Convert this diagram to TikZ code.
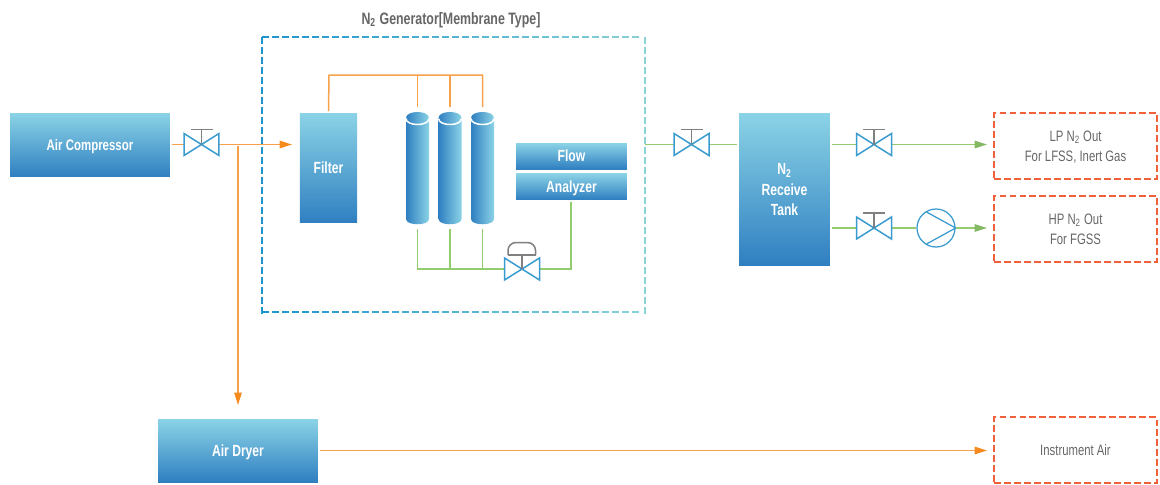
\documentclass[tikz,border=0pt]{standalone}
\usepackage{fontspec}
\setmainfont{Liberation Sans}[FakeStretch=0.75]
\usetikzlibrary{arrows.meta}
\definecolor{boxlight}{HTML}{8BD3E6}
\definecolor{boxdark}{HTML}{2F7FC1}
\definecolor{dashblue}{HTML}{1E94CF}
\definecolor{dashteal}{HTML}{8AD3D6}
\definecolor{valveblue}{HTML}{3A9BCF}
\definecolor{pipeorange}{HTML}{F7A14A}
\definecolor{tiporange}{HTML}{F58A1F}
\definecolor{pipegreen}{HTML}{93CC6E}
\definecolor{outred}{HTML}{F0603A}
\definecolor{labelgray}{HTML}{666666}
\tikzset{
	unit/.style={shade, top color=boxlight, bottom color=boxdark, inner sep=0, outer sep=0.04cm, text=white, text depth=0pt, align=center, font=\fontsize{9.2}{11.6}\selectfont\bfseries},
	outbox/.style={draw=outred, line width=0.035cm, dash pattern=on 0.13cm off 0.07cm, inner sep=0, minimum width=3.26cm, minimum height=1.32cm, align=center, text=labelgray, font=\fontsize{8.6}{11.4}\selectfont},
	valve/.style={inner sep=0, outer sep=0, minimum width=0.7cm, minimum height=0.44cm},
	pump/.style={circle, draw=valveblue, line width=0.025cm, inner sep=0, minimum size=0.76cm},
	air/.style={draw=pipeorange, line width=0.03cm},
	gas/.style={draw=pipegreen, line width=0.03cm},
	airflow/.style={air, -{Triangle[length=0.25cm,width=0.15cm,color=tiporange]}},
	gasflow/.style={gas, -{Triangle[length=0.25cm,width=0.15cm,color=pipegreen!90!black]}},
}
\begin{document}
\begin{tikzpicture}[x=0.02cm, y=-0.02cm]
	\useasboundingbox (0,0) rectangle (1160,484);

	% generator frame, dashes fade from blue to teal
	\foreach \x in {262,272,...,636} {
		\pgfmathsetmacro{\fade}{100-(\x-262)/3.8}
		\draw[color=dashblue!\fade!dashteal, line width=0.035cm] (\x,37) -- ++(7,0);
		\draw[color=dashblue!\fade!dashteal, line width=0.035cm] (\x,312) -- ++(7,0);
	}
	\foreach \y in {37,47,...,307} {
		\draw[color=dashblue, line width=0.035cm] (262,\y) -- ++(0,7);
		\draw[color=dashteal, line width=0.035cm] (645,\y) -- ++(0,7);
	}
	\node[text=labelgray, inner sep=0, font=\fontsize{9.4}{11}\selectfont\bfseries] (title) at (451,20) {N\textsubscript{2} Generator[Membrane Type]};

	% units
	\node[unit, minimum width=3.2cm, minimum height=1.28cm, font=\fontsize{8.7}{11}\selectfont\bfseries] (compressor) at (90,145) {Air Compressor};
	\node[unit, minimum width=3.2cm, minimum height=1.26cm] (dryer) at (238,450.5) {Air Dryer};
	\node[unit, minimum width=1.15cm, minimum height=2.2cm] (filter) at (328.5,168) {Filter};
	\node[unit, minimum width=2.22cm, minimum height=0.52cm] (flow) at (571.5,156) {Flow};
	\node[unit, minimum width=2.22cm, minimum height=0.52cm] (analyzer) at (571.5,186.5) {Analyzer};
	\node[unit, minimum width=1.82cm, minimum height=3.06cm] (tank) at (784.5,189.5) {N\textsubscript{2}\\Receive\\Tank};

	% membrane columns
	\foreach \name/\x in {mema/417.5, memb/450, memc/482.5} {
		\shade[left color=boxdark, right color=boxlight] (\x-11.5,118) -- (\x-11.5,219) .. controls (\x-11.5,226) and (\x+11.5,226) .. (\x+11.5,219) -- (\x+11.5,118) -- cycle;
		\shade[left color=boxdark, right color=boxlight] (\x-11.5,118) .. controls (\x-11.5,110) and (\x+11.5,110) .. (\x+11.5,118) .. controls (\x+11.5,126) and (\x-11.5,126) .. (\x-11.5,118) -- cycle;
		\draw[white, line width=0.03cm] (\x-11.5,118.5) .. controls (\x-11.5,126.5) and (\x+11.5,126.5) .. (\x+11.5,118.5);
		\node[inner sep=0, outer sep=0, minimum width=0.46cm, minimum height=2.44cm] (\name) at (\x,168) {};
	}

	% valves and pump
	\node[valve] (vcomp) at (201.5,144.5) {};
	\node[valve] (vctrl) at (522,269) {};
	\node[valve] (vgen) at (691.5,144.5) {};
	\node[valve] (vlp) at (874,144.5) {};
	\node[valve] (vhp) at (874,228) {};
	\node[pump] (hpump) at (936,228) {};
	\draw[valveblue, line width=0.025cm] (926.5,212) -- (hpump.east) -- (926.5,244);

	% outlets
	\node[outbox] (lpout) at (1075.5,146) {LP N\textsubscript{2} Out\\For LFSS\smash{,} Inert Gas};
	\node[outbox] (hpout) at (1075.5,229) {HP N\textsubscript{2} Out\\For FGSS};
	\node[outbox] (instair) at (1075.5,450) {Instrument Air};

	% air lines
	\coordinate (air) at (292,144.5);
	\coordinate (tee) at (238,146);
	\coordinate (drytip) at (238,405);
	\coordinate (filtertop) at (329,75);
	\coordinate (headend) at (482.5,75);
	\coordinate (insttip) at (987,450.5);
	\draw[air] (compressor.east |- vcomp) -- (vcomp.west);
	\draw[airflow] (vcomp.east) -- (air);
	\draw[airflow] (tee) -- (drytip);
	\draw[airflow] (dryer.east) -- (insttip);
	\draw[air] (filter.north) -- (filtertop) -- (headend) -- (memc.north);
	\draw[air] (mema.north |- filtertop) -- (mema.north);
	\draw[air] (memb.north |- filtertop) -- (memb.north);

	% nitrogen lines
	\coordinate (genout) at (645,144.5);
	\coordinate (busa) at (417.5,269);
	\coordinate (busc) at (482.5,269);
	\coordinate (anaturn) at (571,269);
	\coordinate (lptip) at (987,144.5);
	\coordinate (hptip) at (987,228);
	\draw[gas] (mema.south) -- (busa) -- (vctrl.west);
	\draw[gas] (memb.south) -- (memb.south |- busa);
	\draw[gas] (memc.south) -- (busc);
	\draw[gas] (analyzer.south -| anaturn) -- (anaturn) -- (vctrl.east);
	\draw[gas] (genout) -- (vgen.west);
	\draw[gas] (vgen.east) -- (tank.west |- vgen);
	\draw[gas] (tank.east |- vlp) -- (vlp.west);
	\draw[gas] (tank.east |- vhp) -- (vhp.west);
	\draw[gasflow] (vlp.east) -- (lptip);
	\draw[gas] (vhp.east) -- (hpump.west);
	\draw[gasflow] (hpump.east) -- (hptip);

	% valve bodies go over the pipes
	\foreach \v in {vcomp, vctrl, vgen, vlp, vhp} {
		\draw[valveblue, line width=0.03cm] (\v.north west) -- (\v.south east) -- (\v.north east) -- (\v.south west) -- cycle;
	}
	\foreach \v in {vcomp, vgen, vlp, vhp} {
		\draw[gray, line width=0.03cm] (\v.center) -- ++(0,-15);
		\draw[gray, line width=0.03cm] ([xshift=-0.22cm,yshift=0.3cm]\v.center) -- ++(22,0);
	}
	\draw[gray, line width=0.03cm] (vctrl.center) -- ++(0,-14);
	\draw[gray, line width=0.03cm] (508,255) -- (535.5,255);
	\draw[gray, line width=0.03cm, rounded corners=0.16cm] (508,255) -- (508,242.5) -- (535.5,242.5) -- (535.5,255);
\end{tikzpicture}
\end{document}
